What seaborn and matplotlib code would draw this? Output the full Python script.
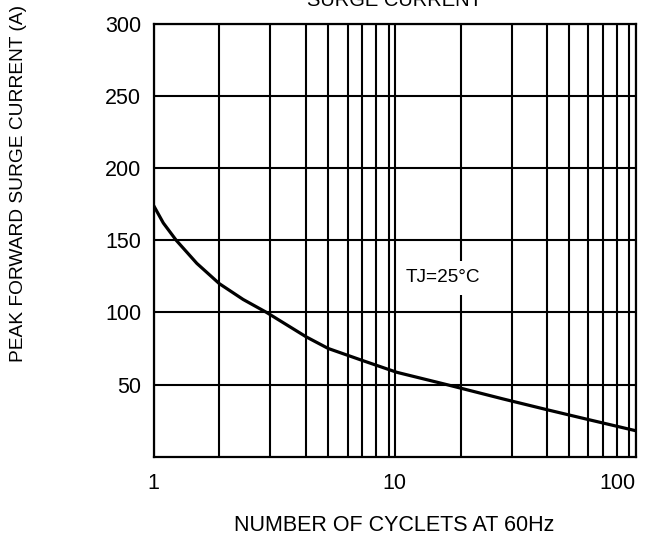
import numpy as np
import matplotlib
matplotlib.use("Agg")
import matplotlib.pyplot as plt
import seaborn as sns

# curve (cycles at 60Hz, peak surge current in A)
cycles = [1, 1.096, 1.24, 1.51, 1.87, 2.35, 2.94, 4.3, 5.3, 7.4, 10.2, 16.4, 28.2, 43, 62.6, 100]
current = [174, 162, 150, 134, 120, 109, 100, 83, 75, 66.5, 58.5, 50, 40, 32.5, 26, 18]

# vertical grid lines as drawn on the (hand-made) log paper
grid_cycles = [1.87, 3.05, 4.3, 5.3, 6.37, 7.3, 8.4, 9.5, 18.9, 30.8, 43, 53, 63.5, 73.4, 84, 93.8]
x_ticks = [1, 10, 100]
x_ticklabels = ["1", "10", "100"]
y_ticks = [50, 100, 150, 200, 250, 300]

sns.set_theme(style="white")
plt.rcParams["font.family"] = ["Liberation Sans", "DejaVu Sans"]
plt.rcParams["text.color"] = "black"

fig = plt.figure(figsize=(6.47, 5.40), dpi=100)
ax = fig.add_axes([0.2376, 0.1543, 0.745, 0.8013])

sns.lineplot(x=cycles, y=current, ax=ax, color="black", linewidth=2.3)

ax.set_xscale("log")
ax.set_xlim(1, 100)
ax.set_ylim(0, 300)
ax.set_xticks(x_ticks)
ax.set_xticklabels(x_ticklabels)
ax.set_xticks(grid_cycles, minor=True)
ax.set_xticklabels([], minor=True)
ax.set_yticks(y_ticks)
ax.set_yticklabels([str(v) for v in y_ticks])
ax.tick_params(axis="both", which="both", length=0)
ax.tick_params(axis="x", pad=12, labelsize=15.5, labelcolor="black")
ax.tick_params(axis="y", pad=9, labelsize=15.5, labelcolor="black")
ax.xaxis.get_ticklabels()[-1].set_horizontalalignment("right")

ax.grid(True, which="both", color="black", linewidth=1.5)
for s in ax.spines.values():
    s.set_visible(True)
    s.set_color("black")
    s.set_linewidth(1.6)

ax.set_xlabel("")
ax.set_ylabel("")

ax.text(15.9, 124, "TJ=25°C", fontsize=13.7, ha="center", va="center", color="black",
        bbox=dict(facecolor="white", edgecolor="none", pad=6))

fig.text(0.61, 0.989, "SURGE CURRENT", fontsize=14.5, ha="center", va="baseline")
fig.text(0.61, 0.026, "NUMBER OF CYCLETS AT 60Hz", fontsize=15.5, ha="center", va="center")
fig.text(0.028, 1 - 183 / 540, "PEAK FORWARD SURGE CURRENT (A)", fontsize=13.8,
         rotation=90, ha="center", va="center")

fig.savefig("out.png", dpi=100, facecolor="white")
